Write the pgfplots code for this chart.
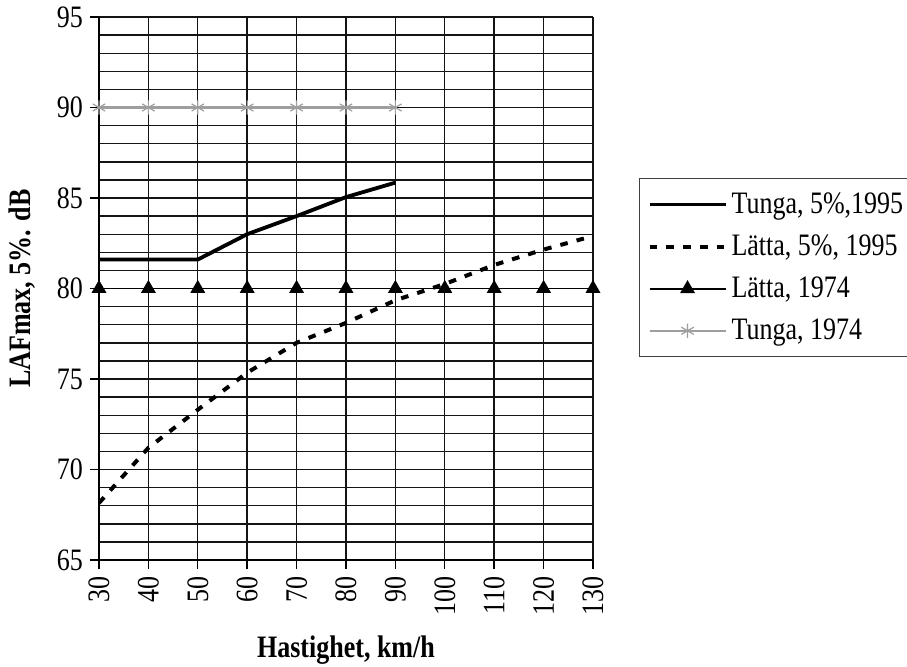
\documentclass[border=0pt]{standalone}
\usepackage{pgfplots}
\pgfplotsset{compat=1.18}
\usepackage{fontspec}
\setmainfont{Liberation Serif}
\definecolor{tgray}{gray}{0.62}
\definecolor{gridc}{gray}{0.08}
\newcommand{\tall}[1]{\scalebox{1}[1.2]{#1}}
\begin{document}
\begin{tikzpicture}[font=\fontsize{13}{15}\selectfont]
\begin{axis}[
  at={(0,0)}, anchor=south west,
  scale only axis, width=247pt, height=271.5pt,
  xmin=30, xmax=130, ymin=65, ymax=95,
  xtick={30,40,...,130}, ytick={65,70,...,95},
  minor y tick num=4,
  grid=both,
  major grid style={gridc, line width=0.7pt},
  minor grid style={gridc, line width=0.7pt},
  axis lines=left,
  axis line style={-, black, line width=0.8pt},
  tick align=outside, major tick length=4.5pt, minor tick length=0pt,
  tick style={black, line width=0.7pt},
  xticklabel={\tall{\pgfmathprintnumber{\tick}}},
  yticklabel={\tall{\pgfmathprintnumber{\tick}}},
  xticklabel style={rotate=90, anchor=east},
  /pgf/number format/assume math mode=true,
  xlabel={\tall{\textbf{Hastighet, km/h}}},
  ylabel={\tall{\textbf{LAFmax, 5\%. dB}}},
  xlabel style={at={(axis description cs:0.5,-0.1657)}, anchor=center},
  ylabel style={at={(axis description cs:-0.155,0.5)}, anchor=center},
  legend cell align=left,
  legend style={at={(axis description cs:1.093,0.7035)}, anchor=north west,
    draw=black!75, line width=0.6pt, inner xsep=4pt, inner ysep=5pt,
    row sep=5.2pt, nodes={inner sep=2pt}},
  legend image code/.code={\draw[mark repeat=2, mark phase=2, #1]
    plot coordinates {(0pt,0pt) (19pt,0pt) (38pt,0pt)};},
]
\addplot[black, line width=1.9pt, no marks] coordinates {
  (30,81.6) (40,81.6) (50,81.6) (60,83.0) (70,84.0) (80,85.05) (90,85.85)};
\addlegendentry{\tall{Tunga, 5\%,1995}}
\addplot[black, line width=2pt, dash pattern=on 3.8pt off 4.6pt, no marks] coordinates {
  (30,68.15) (40,71.2) (50,73.3) (60,75.35) (70,77.0) (80,78.1) (90,79.35)
  (100,80.25) (110,81.3) (120,82.15) (130,82.9)};
\addlegendentry{\tall{Lätta, 5\%, 1995}}
\addplot[black, line width=0.9pt, mark=triangle*, mark size=3.4pt,
  mark options={solid, fill=black}] coordinates {
  (30,80) (40,80) (50,80) (60,80) (70,80) (80,80) (90,80) (100,80)
  (110,80) (120,80) (130,80)};
\addlegendentry{\tall{Lätta, 1974}}
\addplot[tgray, line width=1.1pt, mark=asterisk, mark size=3.6pt,
  mark options={solid, line width=0.6pt}] coordinates {
  (30,90) (40,90) (50,90) (60,90) (70,90) (80,90) (90,90)};
\addlegendentry{\tall{Tunga, 1974}}
\end{axis}
\pgfresetboundingbox
\path[use as bounding box] (-49.5pt,-53pt) rectangle (404pt,280pt);
\end{tikzpicture}
\end{document}
